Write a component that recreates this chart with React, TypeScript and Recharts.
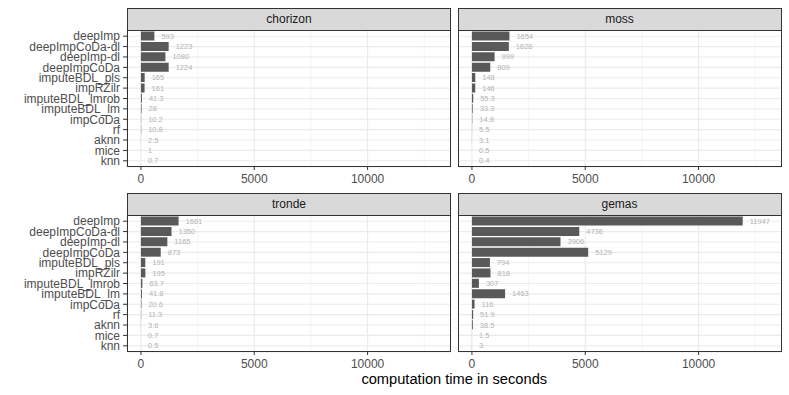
import { BarChart, Bar, XAxis, YAxis, CartesianGrid, LabelList } from 'recharts';

const methods = [
  'deepImp', 'deepImpCoDa-dl', 'deepImp-dl', 'deepImpCoDa', 'imputeBDL_pls', 'impRZilr',
  'imputeBDL_lmrob', 'imputeBDL_lm', 'impCoDa', 'rf', 'aknn', 'mice', 'knn',
];

const chorizon = [593, 1223, 1080, 1224, 165, 161, 41.3, 28, 10.2, 10.8, 2.5, 1, 0.7];
const moss = [1654, 1628, 999, 809, 148, 146, 55.3, 33.3, 14.8, 5.5, 3.1, 0.5, 0.4];
const tronde = [1661, 1350, 1165, 873, 191, 195, 63.7, 41.8, 20.6, 11.3, 3.6, 0.7, 0.5];
const gemas = [11947, 4736, 3906, 5129, 794, 818, 307, 1463, 116, 51.9, 38.5, 1.5, 3];

const majorTicks = [0, 5000, 10000];
const minorTicks = [2500, 7500, 12500];
const xDomain: [number, number] = [-615, 13680];

const FONT = '"Liberation Sans", Arial, Helvetica, sans-serif';
const PLOT_W = 324;
const PLOT_H = 137;
const AXIS_H = 25;
const Y_AXIS_W = 127;
const STRIP_H = 23;

interface PanelProps {
  title: string;
  values: number[];
  plotLeft: number;
  plotTop: number;
  showY: boolean;
}

function Panel({ title, values, plotLeft, plotTop, showY }: PanelProps) {
  const data = methods.map((name, i) => ({ name, value: values[i] }));
  const yw = showY ? Y_AXIS_W : 0;
  return (
    <>
      <div style={{ position: 'absolute', left: plotLeft - yw, top: plotTop }}>
        <BarChart
          width={PLOT_W + yw}
          height={PLOT_H + AXIS_H}
          data={data}
          layout="vertical"
          barCategoryGap="5%"
          margin={{ top: 0, right: 0, bottom: 0, left: 0 }}
        >
          <CartesianGrid xAxisId="minor" stroke="#ebebeb" strokeWidth={0.55} horizontal={false} />
          <CartesianGrid stroke="#ebebeb" strokeWidth={1.1} />
          <XAxis
            xAxisId="minor"
            type="number"
            domain={xDomain}
            ticks={minorTicks}
            allowDataOverflow
            hide
          />
          <XAxis
            type="number"
            domain={xDomain}
            ticks={majorTicks}
            allowDataOverflow
            height={AXIS_H}
            axisLine={false}
            tickSize={3}
            tickMargin={4}
            tickLine={{ stroke: '#333333' }}
            tick={{ fill: '#4d4d4d', fontSize: 12, fontFamily: FONT }}
          />
          <YAxis
            type="category"
            dataKey="name"
            width={yw}
            hide={!showY}
            interval={0}
            padding={{ top: 1, bottom: 1 }}
            axisLine={false}
            tickSize={4}
            tickMargin={3}
            tickLine={{ stroke: '#333333' }}
            tick={{ fill: '#4d4d4d', fontSize: 12, fontFamily: FONT }}
          />
          <Bar dataKey="value" fill="#595959" isAnimationActive={false}>
            <LabelList
              dataKey="value"
              position="right"
              offset={7}
              fill="#b3b3b3"
              fontSize={7.5}
              fontFamily={FONT}
              formatter={(v: any) => String(v)}
            />
          </Bar>
        </BarChart>
      </div>
      <div
        style={{
          position: 'absolute', left: plotLeft, top: plotTop, width: PLOT_W, height: PLOT_H,
          border: '1px solid #333333', boxSizing: 'border-box', pointerEvents: 'none',
        }}
      />
      <div
        style={{
          position: 'absolute', left: plotLeft, top: plotTop - STRIP_H + 1, width: PLOT_W, height: STRIP_H,
          background: '#d9d9d9', border: '1px solid #333333', boxSizing: 'border-box',
          fontSize: 12, color: '#1a1a1a', fontFamily: FONT, textAlign: 'center', lineHeight: `${STRIP_H - 2}px`,
        }}
      >
        {title}
      </div>
    </>
  );
}

export default function App() {
  return (
    <div
      style={{
        position: 'absolute', left: 0, top: 0, width: 789, height: 395,
        background: '#ffffff', fontFamily: FONT, overflow: 'hidden',
      }}
    >
      <Panel title="chorizon" values={chorizon} plotLeft={127} plotTop={30} showY />
      <Panel title="moss" values={moss} plotLeft={457.5} plotTop={30} showY={false} />
      <Panel title="tronde" values={tronde} plotLeft={127} plotTop={215} showY />
      <Panel title="gemas" values={gemas} plotLeft={457.5} plotTop={215} showY={false} />
      <div
        style={{
          position: 'absolute', left: 127, width: 654.5, top: 371, textAlign: 'center',
          fontSize: 14.67, color: '#000000', fontFamily: FONT,
        }}
      >
        computation time in seconds
      </div>
    </div>
  );
}
